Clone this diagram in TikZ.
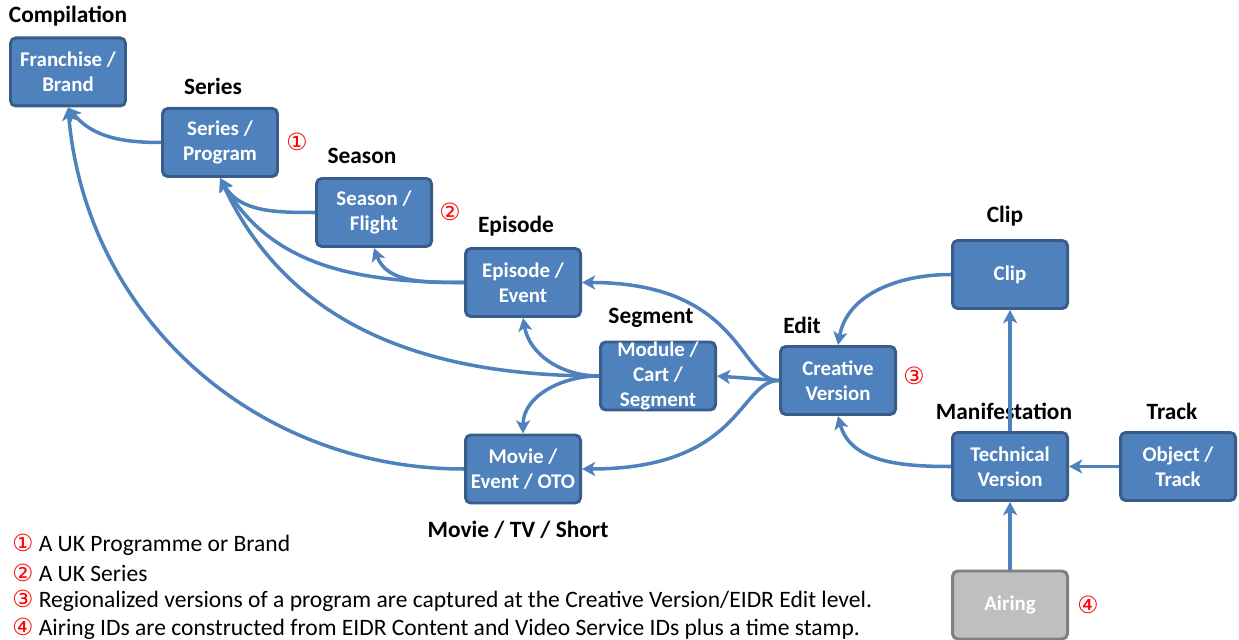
\documentclass[tikz,border=0pt]{standalone}
\usepackage{fontspec}
\setmainfont{Carlito}
\newfontfamily\circfont{DejaVu Sans}
\usetikzlibrary{arrows.meta,shapes,positioning}
\definecolor{boxblue}{HTML}{4F81BD}
\definecolor{boxedge}{HTML}{385D8A}
\definecolor{airfill}{HTML}{BFBFBF}
\definecolor{airedge}{HTML}{7F7F7F}
\tikzstyle{entity}=[rectangle,rounded corners=3pt,draw=boxedge,line width=1.7pt,fill=boxblue,minimum width=2.3cm,minimum height=1.36cm,inner sep=0pt,align=center,text=white,font=\fontsize{11.9}{14}\selectfont\bfseries]
\tikzstyle{airing}=[entity,draw=airedge,fill=airfill]
\tikzstyle{tier}=[font=\fontsize{13.3}{15}\selectfont\bfseries]
\tikzstyle{numtag}=[text=red,font=\circfont\fontsize{13.5}{14}\selectfont]
\tikzstyle{edge}=[draw,line width=2pt,boxblue,-{Stealth[length=7.5pt,width=8pt,inset=2pt]}]
\tikzstyle{note}=[anchor=west,inner sep=0pt,font=\fontsize{13.4}{15}\selectfont]

\begin{document}
\begin{tikzpicture}[scale=1]

    \useasboundingbox (0,0) rectangle (24.78,-12.8);

     \foreach \x/\y/\name/\txt in {1.36/-1.44/fb/{Franchise /\\Brand}, 4.40/-2.85/sp/{Series /\\Program},
        7.48/-4.25/sf/{Season /\\Flight}, 10.46/-5.65/ee/{Episode /\\Event}, 13.16/-7.52/mcs/{Module /\\Cart /\\Segment},
        10.46/-9.38/meo/{Movie /\\Event / OTO}, 16.76/-7.61/cv/{Creative\\Version}, 20.20/-5.49/clip/{Clip},
        20.20/-9.33/tv/{Technical\\Version}, 23.56/-9.33/ot/{Object /\\Track}}
        \node[entity] (\name) at (\x,\y) {\txt};
     \node[airing] (air) at (20.20,-12.10) {Airing};

     \foreach \x/\y/\name/\txt in {1.36/-0.32/tcomp/Compilation, 4.26/-1.72/tser/Series, 7.24/-3.12/tsea/Season,
        10.32/-4.52/tepi/Episode, 13.02/-6.36/tseg/Segment, 16.04/-6.50/tedit/Edit, 20.10/-4.32/tclip/Clip,
        20.08/-8.22/tman/Manifestation, 23.44/-8.22/ttrack/Track, 10.36/-10.60/tmovie/{Movie / TV / Short}}
        \node[tier] (\name) at (\x,\y) {\txt};

     \foreach \x/\y/\name/\txt in {5.94/-2.84/n1/①, 9.00/-4.24/n2/②, 18.28/-7.52/n3/③, 21.76/-12.10/n4/④}
        \node[numtag] (\name) at (\x,\y) {\txt};

    % curved links
    \foreach \src/\dst/\o/\i in {sp.west/fb.south/180/-50, meo.west/fb.south/180/-85, sf.west/sp.south/180/-60,
        ee.west/sp.south/180/-60, mcs.west/sp.south/180/-65, ee.west/sf.south/180/-70, mcs.west/ee.south/180/-80,
        mcs.west/meo.north/180/90, clip.west/cv.north/180/80, tv.west/cv.south/180/-75}
        \path[edge] (\src) to[out=\o,in=\i] (\dst);

    \foreach \dst in {ee.east, meo.east}
        \path[edge] (cv.west) to[out=180,in=0,out distance=0.8cm,in distance=3.2cm] (\dst);

    % straight links
    \foreach \src/\dst in {cv.west/mcs.east, tv.north/clip.south, ot.west/tv.east, air.north/tv.south}
        \path[edge] (\src) -- (\dst);

    \node[note] (note1) at (0.24,-10.90) {\textcolor{red}{\circfont ①} A UK Programme or Brand};
    \node[note] (note2) at (0.24,-11.46) {\textcolor{red}{\circfont ②} A UK Series};
    \node[note] (note3) at (0.24,-12.02) {\textcolor{red}{\circfont ③} Regionalized versions of a program are captured at the Creative Version/EIDR Edit level.};
    \node[note] (note4) at (0.24,-12.58) {\textcolor{red}{\circfont ④} Airing IDs are constructed from EIDR Content and Video Service IDs plus a time stamp.};

\end{tikzpicture}
\end{document}
